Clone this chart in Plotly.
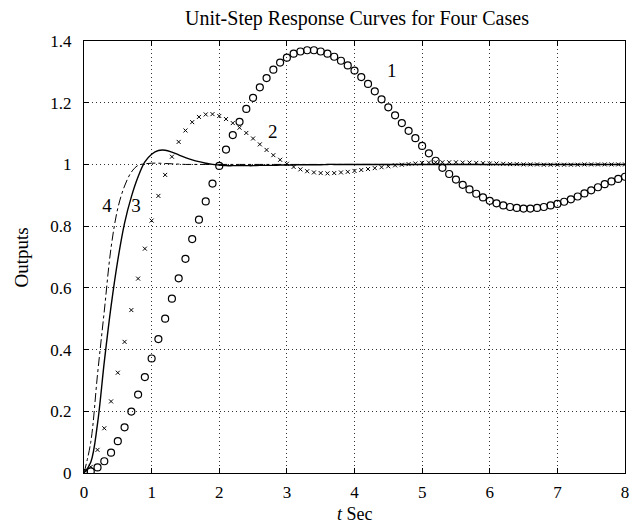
import plotly.graph_objects as go

t = [round(i * 0.1, 1) for i in range(81)]

curve1 = [0.000, 0.005, 0.018, 0.038, 0.066, 0.103, 0.148, 0.199, 0.254, 0.311,
          0.371, 0.434, 0.500, 0.565, 0.631, 0.694, 0.758, 0.821, 0.880, 0.938,
          0.995, 1.048, 1.095, 1.138, 1.180, 1.216, 1.250, 1.280, 1.307, 1.330,
          1.346, 1.359, 1.366, 1.370, 1.370, 1.366, 1.359, 1.349, 1.336, 1.321,
          1.304, 1.283, 1.261, 1.237, 1.211, 1.185, 1.159, 1.134, 1.109, 1.085,
          1.060, 1.036, 1.012, 0.989, 0.969, 0.951, 0.934, 0.919, 0.905, 0.893,
          0.882, 0.874, 0.867, 0.862, 0.859, 0.857, 0.857, 0.859, 0.862, 0.867,
          0.872, 0.879, 0.887, 0.896, 0.906, 0.916, 0.926, 0.936, 0.945, 0.953,
          0.960]

curve2 = [0.000, 0.020, 0.075, 0.145, 0.232, 0.325, 0.425, 0.528, 0.630, 0.727,
          0.818, 0.898, 0.966, 1.025, 1.073, 1.110, 1.137, 1.154, 1.162, 1.163,
          1.157, 1.147, 1.134, 1.119, 1.102, 1.084, 1.065, 1.047, 1.030, 1.015,
          1.002, 0.992, 0.984, 0.978, 0.974, 0.972, 0.971, 0.972, 0.974, 0.976,
          0.979, 0.982, 0.985, 0.988, 0.991, 0.994, 0.997, 0.999, 1.001, 1.003,
          1.005, 1.006, 1.007, 1.007, 1.007, 1.007, 1.006, 1.006, 1.005, 1.004,
          1.003, 1.003, 1.002, 1.001, 1.001, 1.000, 1.000, 1.000, 0.999, 0.999,
          0.999, 0.999, 0.999, 0.999, 1.000, 1.000, 1.000, 1.000, 1.000, 1.000,
          1.000]

curve3 = [0.000, 0.035, 0.160, 0.360, 0.540, 0.690, 0.810, 0.895, 0.960, 1.008,
          1.033, 1.045, 1.046, 1.040, 1.031, 1.022, 1.015, 1.009, 1.004, 1.000,
          0.998, 0.996, 0.996, 0.996, 0.996, 0.996, 0.997, 0.997, 0.997, 0.998,
          0.998, 0.998, 0.999, 0.999, 0.999, 0.999, 1.000, 1.000, 1.000, 1.000,
          1.000, 1.000, 1.000, 1.000, 1.000, 1.000, 1.000, 1.000, 1.000, 1.000,
          1.000, 1.000, 1.000, 1.000, 1.000, 1.000, 1.000, 1.000, 1.000, 1.000,
          1.000, 1.000, 1.000, 1.000, 1.000, 1.000, 1.000, 1.000, 1.000, 1.000,
          1.000, 1.000, 1.000, 1.000, 1.000, 1.000, 1.000, 1.000, 1.000, 1.000,
          1.000]

curve4 = [0.000, 0.100, 0.320, 0.525, 0.730, 0.858, 0.930, 0.975, 0.997, 1.002,
          1.004, 1.004, 1.003, 1.002, 1.001, 1.000, 1.000, 1.000, 1.000, 1.000,
          1.000, 1.000, 1.000, 1.000, 1.000, 1.000, 1.000, 1.000, 1.000, 1.000,
          1.000, 1.000, 1.000, 1.000, 1.000, 1.000, 1.000, 1.000, 1.000, 1.000,
          1.000, 1.000, 1.000, 1.000, 1.000, 1.000, 1.000, 1.000, 1.000, 1.000,
          1.000, 1.000, 1.000, 1.000, 1.000, 1.000, 1.000, 1.000, 1.000, 1.000,
          1.000, 1.000, 1.000, 1.000, 1.000, 1.000, 1.000, 1.000, 1.000, 1.000,
          1.000, 1.000, 1.000, 1.000, 1.000, 1.000, 1.000, 1.000, 1.000, 1.000,
          1.000]

label_text = ["1", "2", "3", "4"]
label_x = [4.55, 2.79, 0.77, 0.34]
label_y = [1.30, 1.10, 0.86, 0.86]

x_ticks = [0, 1, 2, 3, 4, 5, 6, 7, 8]
y_ticks = [0, 0.2, 0.4, 0.6, 0.8, 1, 1.2, 1.4]
y_tick_text = ["0", "0.2", "0.4", "0.6", "0.8", "1", "1.2", "1.4"]

FONT = "Liberation Serif, Times New Roman, serif"
GRID = dict(showgrid=True, gridcolor="#333", griddash="1px,3px", gridwidth=1, zeroline=False)

fig = go.Figure()
fig.add_trace(go.Scatter(x=t, y=curve3, mode="lines", line=dict(color="black", width=1.4, shape="spline"),
                         showlegend=False))
fig.add_trace(go.Scatter(x=t, y=curve4, mode="lines", line=dict(color="black", width=1, dash="dashdot", shape="spline"),
                         showlegend=False))
fig.add_trace(go.Scatter(x=t, y=curve2, mode="markers",
                         marker=dict(symbol="x-thin", size=4, color="black", line=dict(color="black", width=1)),
                         showlegend=False))
fig.add_trace(go.Scatter(x=t, y=curve1, mode="markers",
                         marker=dict(symbol="circle-open", size=7, color="black", line=dict(color="black", width=1.2)),
                         showlegend=False))
fig.add_trace(go.Scatter(x=label_x, y=label_y, mode="text", text=label_text,
                         textfont=dict(family=FONT, size=19, color="black"), showlegend=False))

fig.update_layout(
    width=635, height=527,
    margin=dict(l=84, r=6, t=41, b=54),
    paper_bgcolor="white", plot_bgcolor="white",
    title=dict(text="Unit-Step Response Curves for Four Cases", x=357 / 635, xanchor="center",
               y=1 - 18 / 527, yanchor="middle", font=dict(family=FONT, size=20, color="black")),
    font=dict(family=FONT, size=17, color="black"),
    annotations=[
        dict(text="<i>t</i> Sec", xref="paper", yref="paper", x=0.5, y=(473 - 526) / 432,
             xanchor="center", yanchor="bottom", showarrow=False,
             font=dict(family=FONT, size=18, color="black")),
        dict(text="Outputs", xref="paper", yref="paper", x=(21 - 84) / 545, y=0.5,
             xanchor="center", yanchor="middle", showarrow=False, textangle=-90,
             font=dict(family=FONT, size=19, color="black")),
    ],
)
fig.update_xaxes(range=[0, 8], tickvals=x_ticks, ticks="inside", ticklen=5, tickcolor="black",
                 showline=True, linecolor="black", linewidth=1.2, mirror="ticks",
                 tickfont=dict(family=FONT, size=17, color="black"), ticklabelstandoff=3, **GRID)
fig.update_yaxes(range=[0, 1.4], tickvals=y_ticks, ticktext=y_tick_text, ticks="inside", ticklen=5, tickcolor="black",
                 showline=True, linecolor="black", linewidth=1.2, mirror="ticks",
                 tickfont=dict(family=FONT, size=17, color="black"), ticklabelstandoff=8, **GRID)

fig.write_html("out.html", config={"displayModeBar": False},
               post_script="document.body.style.margin='0';document.body.style.overflow='hidden';")
